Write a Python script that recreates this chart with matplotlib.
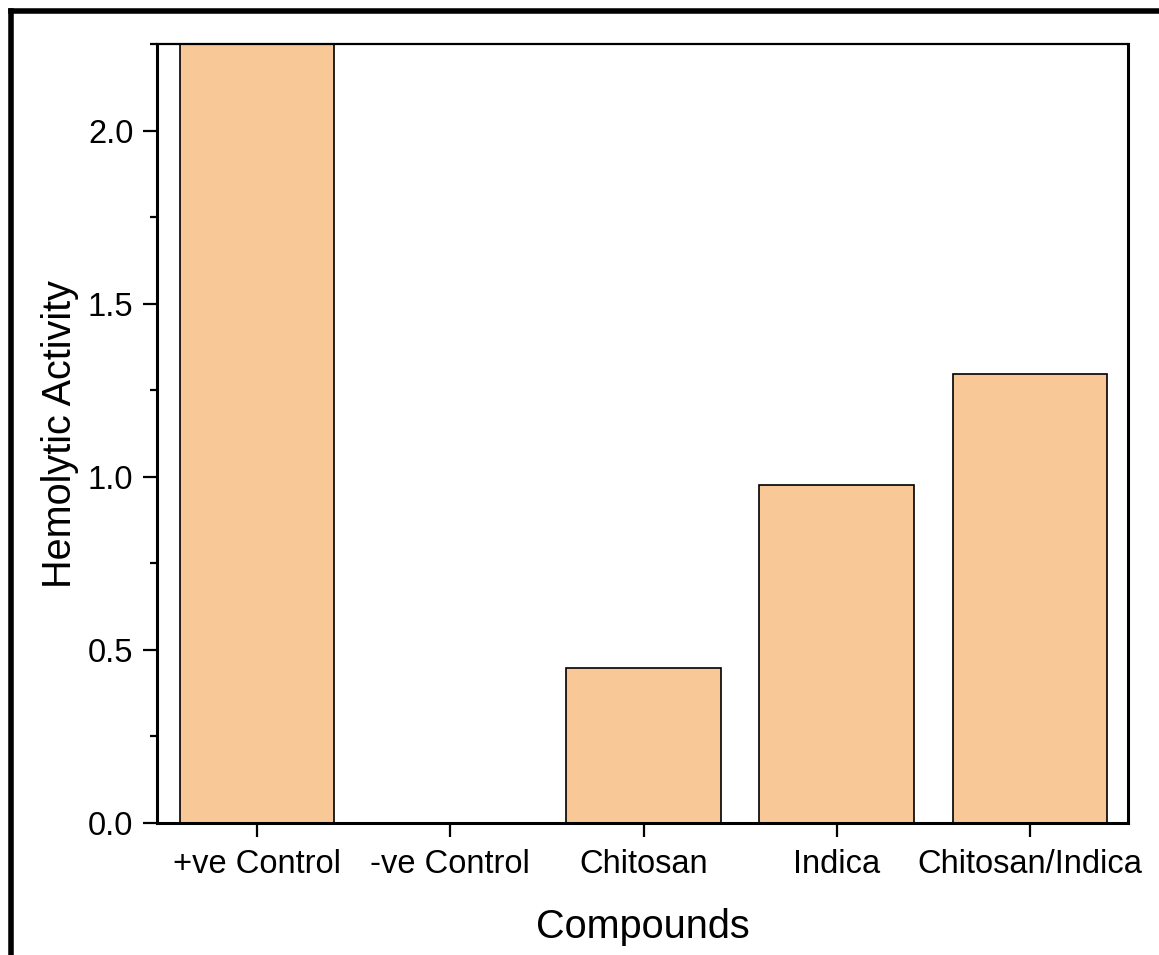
import matplotlib
matplotlib.use("Agg")
import matplotlib.pyplot as plt
from matplotlib.lines import Line2D
from matplotlib.ticker import MultipleLocator

# data
compounds = ["+ve Control", "-ve Control", "Chitosan", "Indica", "Chitosan/Indica"]
activity = [2.30, 0.0, 0.448, 0.975, 1.298]

plt.rcParams['font.family'] = ['Liberation Sans', 'DejaVu Sans']

fig = plt.figure(figsize=(11.59, 9.55), dpi=100)
ax = fig.add_axes([0.1355, 0.1382, 0.8378, 0.8157])

x = range(len(compounds))
ax.bar(x, activity, width=0.8, color='#F9C897', edgecolor='black', linewidth=1.2)

ax.set_xlim(-0.517, 4.507)
ax.set_ylim(0, 2.25)
ax.set_xticks(list(x))
ax.set_xticklabels(compounds)
ax.yaxis.set_major_locator(MultipleLocator(0.5))
ax.yaxis.set_minor_locator(MultipleLocator(0.25))
ax.yaxis.set_major_formatter(matplotlib.ticker.FormatStrFormatter('%.1f'))

ax.tick_params(axis='both', which='major', direction='out', length=10, width=1.6,
               labelsize=23.5, pad=7)
ax.tick_params(axis='y', which='minor', direction='out', length=5, width=1.6)
ax.tick_params(axis='x', which='major', pad=9)

for side in ['left', 'bottom', 'right']:
    ax.spines[side].set_linewidth(2.2)
ax.spines['top'].set_linewidth(1.6)

ax.set_xlabel('Compounds', fontsize=28.5, labelpad=20)
ax.set_ylabel('Hemolytic Activity', fontsize=28.5, labelpad=6)

# cropped outer frame (left and top edges only)
fig.add_artist(Line2D([0.0099, 0.0099], [0.0, 0.988], transform=fig.transFigure,
                      color='black', linewidth=4))
fig.add_artist(Line2D([0.0099, 1.0], [0.988, 0.988], transform=fig.transFigure,
                      color='black', linewidth=4))

fig.savefig('out.png', dpi=100)
